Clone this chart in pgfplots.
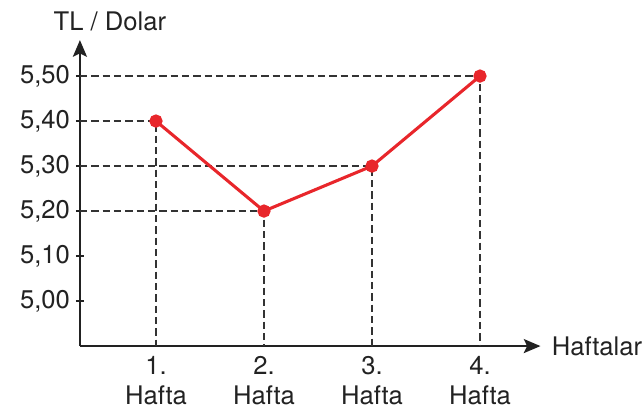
\documentclass[border=0pt]{standalone}
\usepackage{pgfplots}
\pgfplotsset{compat=1.18}
\usepackage{fontspec}
\setmainfont{TeX Gyre Heros}
\usetikzlibrary{arrows.meta}
\definecolor{ink}{HTML}{222222}
\definecolor{dashgray}{HTML}{333333}
\definecolor{redl}{HTML}{E8262B}
\begin{document}
\begin{tikzpicture}
\begin{axis}[
  x=81pt, y=337.5pt,
  xmin=0.296, xmax=4.56, ymin=4.90, ymax=5.58,
  axis lines=left,
  axis line style={ink, line width=1.6pt, -{Stealth[length=12.5pt,width=10.5pt,inset=2.5pt]}},
  clip=false,
  font=\fontsize{19.2}{23}\selectfont,
  tick label style={ink},
  ytick={5.0,5.1,5.2,5.3,5.4,5.5},
  yticklabel style={xshift=-1pt, /pgf/number format/fixed, /pgf/number format/fixed zerofill, /pgf/number format/precision=2, /pgf/number format/use comma, /pgf/number format/assume math mode=true},
  y tick style={ink, line width=1.3pt},
  major tick length=6pt,
  tick align=center,
  xtick={1,2,3,4},
  xticklabels={1.\\Hafta,2.\\Hafta,3.\\Hafta,4.\\Hafta},
  xticklabel style={align=center, yshift=-1pt},
  x tick style={draw=none},
]
\addplot[dashgray, line width=1.4pt, dash pattern=on 5.5pt off 3pt] coordinates {(0.296,5.40) (1,5.40) (1,4.90)};
\addplot[dashgray, line width=1.4pt, dash pattern=on 5.5pt off 3pt] coordinates {(0.296,5.20) (2,5.20) (2,4.90)};
\addplot[dashgray, line width=1.4pt, dash pattern=on 5.5pt off 3pt] coordinates {(0.296,5.30) (3,5.30) (3,4.90)};
\addplot[dashgray, line width=1.4pt, dash pattern=on 5.5pt off 3pt] coordinates {(0.296,5.50) (4,5.50) (4,4.90)};
\addplot[redl, line width=2.3pt, mark=*, mark size=3.8pt, mark options={fill=redl, draw=redl}] coordinates {(1,5.40) (2,5.20) (3,5.30) (4,5.50)};
\node[ink, anchor=base, yshift=7.5pt, xshift=22.5pt] at (axis cs:0.296,5.58) {TL / Dolar};
\node[ink, anchor=west, xshift=5pt] at (axis cs:4.56,4.90) {Haftalar};
\coordinate (BL) at (axis cs:-0.444,4.7467);
\coordinate (TR) at (axis cs:5.5,5.669);
\end{axis}
\pgfresetboundingbox
\path[use as bounding box] (BL) rectangle (TR);
\end{tikzpicture}
\end{document}
